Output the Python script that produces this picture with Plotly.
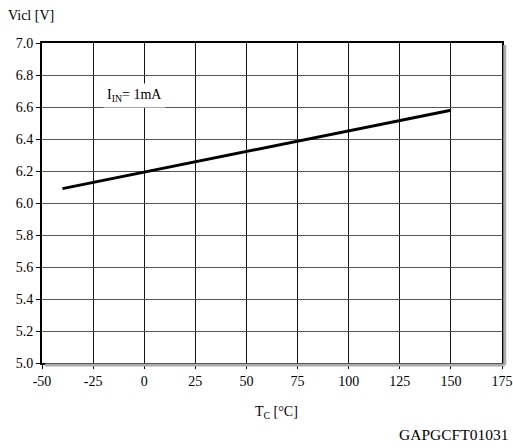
import plotly.graph_objects as go

# Clamp voltage versus case temperature at I_IN = 1 mA
temp_c = [-40, 0, 25, 50, 75, 100, 125, 150]
vicl_v = [6.09, 6.193, 6.257, 6.322, 6.387, 6.451, 6.516, 6.58]

x_ticks = [-50, -25, 0, 25, 50, 75, 100, 125, 150, 175]
y_ticks = [5.0, 5.2, 5.4, 5.6, 5.8, 6.0, 6.2, 6.4, 6.6, 6.8, 7.0]

FONT = "Liberation Serif"
FS = 14

# plot area in pixels
W, H = 513, 448
ML, MR, MT, MB = 42, 11, 43, 85
PW, PH = W - ML - MR, H - MT - MB


def px_x(px):
    return (px - ML) / PW


def px_y(py):
    return 1 - (py - MT) / PH


fig = go.Figure()
fig.add_trace(go.Scatter(
    x=temp_c, y=vicl_v, mode="lines",
    line=dict(color="black", width=3),
    showlegend=False, hoverinfo="skip",
))

fig.update_layout(
    width=W, height=H,
    margin=dict(l=ML, r=MR, t=MT, b=MB, autoexpand=False),
    paper_bgcolor="white", plot_bgcolor="white",
    font=dict(family=FONT, size=FS, color="black"),
    xaxis=dict(
        range=[-50, 175], tickvals=x_ticks, ticktext=[str(v) for v in x_ticks],
        showgrid=True, gridcolor="#111111", gridwidth=1,
        showline=True, linecolor="black", linewidth=2, mirror=True,
        ticks="outside", ticklen=4, tickcolor="black",
        tickfont=dict(family=FONT, size=FS), automargin=False,
        zeroline=False, fixedrange=True,
    ),
    yaxis=dict(
        range=[5.0, 7.0], tickvals=y_ticks, ticktext=[f"{v:.1f}" for v in y_ticks],
        showgrid=True, gridcolor="#555555", gridwidth=1,
        showline=True, linecolor="black", linewidth=2, mirror=True,
        ticks="outside", ticklen=4, tickcolor="black",
        tickfont=dict(family=FONT, size=FS), automargin=False,
        zeroline=False, fixedrange=True,
    ),
    shapes=[
        # soft gray shadow along the right and bottom frame edges
        dict(type="line", xref="paper", yref="paper", x0=1.006, x1=1.006, y0=-0.006, y1=0.994,
             line=dict(color="#aaaaaa", width=3)),
        dict(type="line", xref="paper", yref="paper", x0=0.006, x1=1.006, y0=-0.006, y1=-0.006,
             line=dict(color="#aaaaaa", width=3)),
    ],
    annotations=[
        dict(x=-5, y=6.67, xref="x", yref="y", showarrow=False,
             text="I<sub>IN</sub>= 1mA", bgcolor="white", borderpad=3,
             font=dict(family=FONT, size=FS)),
        dict(x=px_x(6), y=px_y(15), xref="paper", yref="paper", showarrow=False,
             text="Vicl [V]", font=dict(family=FONT, size=FS),
             xanchor="left", yanchor="middle"),
        dict(x=px_x(276), y=px_y(412), xref="paper", yref="paper", showarrow=False,
             text="T<sub>C</sub> [°C]", font=dict(family=FONT, size=FS),
             xanchor="center", yanchor="middle"),
        dict(x=px_x(510), y=px_y(434), xref="paper", yref="paper", showarrow=False,
             text="GAPGCFT01031", font=dict(family=FONT, size=15.5),
             xanchor="right", yanchor="middle"),
    ],
)

fig.write_html("out.html")
